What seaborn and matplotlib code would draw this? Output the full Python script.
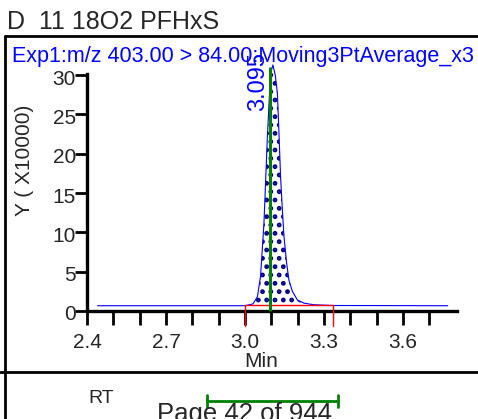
"""
Chromatogram panel: D 11 18O2 PFHxS, MRM 403.00 > 84.00 (3-pt moving average).
Recreated with seaborn + matplotlib, saved as out.png.
"""
import numpy as np
import matplotlib
matplotlib.use("Agg")
import matplotlib.pyplot as plt
import matplotlib.transforms as mtransforms
from matplotlib.lines import Line2D
import seaborn as sns

# ─────────────────────────────────────────────────────────────────────────────
# Data (intensity in units of x10000 counts)
# ─────────────────────────────────────────────────────────────────────────────
rt_min = [2.44, 3.00, 3.030, 3.047, 3.059, 3.072, 3.085, 3.097, 3.106, 3.115,
          3.123, 3.129, 3.135, 3.142, 3.148, 3.158, 3.167, 3.180, 3.199, 3.224,
          3.260, 3.333, 3.77]
intensity = [0.67, 0.67, 0.9, 1.8, 4.4, 11.2, 22.2, 30.2, 31.3, 30.0,
             27.7, 22.6, 17.1, 12.8, 9.5, 6.1, 3.9, 2.5, 1.4, 1.0,
             0.8, 0.7, 0.67]

apex_rt = 3.095
apex_label = "3.095"
int_start, int_end = 3.0, 3.333
int_baseline = 0.74

x_ticks = [2.4, 2.7, 3.0, 3.3, 3.6]
x_minor = [2.4, 2.5, 2.6, 2.7, 2.8, 2.9, 3.0, 3.1, 3.2, 3.3, 3.4, 3.5, 3.6, 3.7]
y_ticks = [0, 5, 10, 15, 20, 25, 30]

title = "D  11 18O2 PFHxS"
channel = "Exp1:m/z 403.00 > 84.00:Moving3PtAverage_x3"

BLUE = "#0000FF"
GREEN = "#008000"
NAVY = "#000080"
RED = "#FF0000"

sns.set_style("ticks")
plt.rcParams["font.family"] = ["Liberation Sans", "DejaVu Sans"]
plt.rcParams["hatch.linewidth"] = 2.2

W, H = 478, 419
fig = plt.figure(figsize=(W / 100, H / 100), dpi=100)
ax = fig.add_axes([87 / W, 1 - 311 / H, (457 - 87) / W, (311 - 74) / H])

# trace
sns.lineplot(x=rt_min, y=intensity, ax=ax, color=BLUE, linewidth=0.8,
             estimator=None, sort=False)
for ln in ax.lines:
    ln.set_clip_on(False)

# integrated area (dotted)
xs = np.array(rt_min)
ys = np.array(intensity)
m = (xs >= int_start) & (xs <= int_end)
ax.fill_between(xs[m], int_baseline, ys[m], facecolor="none", edgecolor=NAVY,
                hatch="..", linewidth=0, clip_on=False)

# integration baseline + limits
ax.plot([int_start, int_start, int_end, int_end],
        [-1.9, int_baseline, int_baseline, -1.9],
        color=RED, linewidth=1, clip_on=False, zorder=4)

# apex marker
ax.vlines(apex_rt, 0, max(intensity) - 0.3, color=GREEN, linewidth=2.2,
          zorder=5, clip_on=False)
ax.text(apex_rt - 0.004, 33.0, apex_label, rotation=90, ha="right", va="top",
        color=BLUE, fontsize=17, clip_on=False)

ax.set_xlim(2.4, 3.805)
ax.set_ylim(0, 30.15)
ax.set_xticks(x_ticks)
ax.set_xticklabels([f"{t:.1f}" for t in x_ticks])
ax.set_xticks(x_minor, minor=True)
ax.set_yticks(y_ticks)
ax.set_yticklabels([str(t) for t in y_ticks])
ax.set_xlabel("")
ax.set_ylabel("")

for side in ["top", "right"]:
    ax.spines[side].set_visible(False)
for side in ["left", "bottom"]:
    ax.spines[side].set_linewidth(2.4)
    ax.spines[side].set_color("black")

ax.tick_params(axis="x", which="both", direction="out", length=10, width=2,
               color="black", labelsize=15, pad=6)
ax.tick_params(axis="y", which="major", direction="out", length=9, width=2,
               color="black", labelsize=15, pad=-1)
shift = mtransforms.ScaledTranslation(0, 4 / 72, fig.dpi_scale_trans)
for lbl in ax.get_yticklabels():
    lbl.set_va("top")
    lbl.set_transform(lbl.get_transform() + shift)

# axis titles placed as in the report layout
fig.text(25 / W, 1 - 160 / H, "Y ( X10000)", rotation=90, ha="center",
         va="center", fontsize=15)
fig.text(261 / W, 1 - 361 / H, "Min", ha="center", va="center", fontsize=15)

# header texts
fig.text(7 / W, 1 - 29 / H, title, ha="left", va="baseline", fontsize=18)
fig.text(12 / W, 1 - 62 / H, channel, ha="left", va="baseline", fontsize=15.5,
         color=BLUE)

# report frame lines
fig.add_artist(Line2D([5 / W, 5 / W], [0, 1 - 36 / H], color="black",
                      linewidth=2, transform=fig.transFigure))
fig.add_artist(Line2D([5 / W, 1], [1 - 36 / H, 1 - 36 / H], color="black",
                      linewidth=2, transform=fig.transFigure))
fig.add_artist(Line2D([0, 1], [1 - 372 / H, 1 - 372 / H], color="black",
                      linewidth=2, transform=fig.transFigure))

# RT panel below
fig.text(101 / W, 1 - 398 / H, "RT", ha="center", va="center", fontsize=14)
fig.text(157 / W, 1 - 421 / H, "Page 42 of 944", ha="left", va="baseline",
         fontsize=18.5)
fig.add_artist(Line2D([207 / W, 338 / W], [1 - 401 / H, 1 - 401 / H],
                      color=GREEN, linewidth=2, transform=fig.transFigure))
for xp in [207, 338]:
    fig.add_artist(Line2D([xp / W, xp / W], [1 - 395 / H, 1 - 407 / H],
                          color=GREEN, linewidth=2, transform=fig.transFigure))

fig.savefig("out.png", dpi=100)
plt.close(fig)
